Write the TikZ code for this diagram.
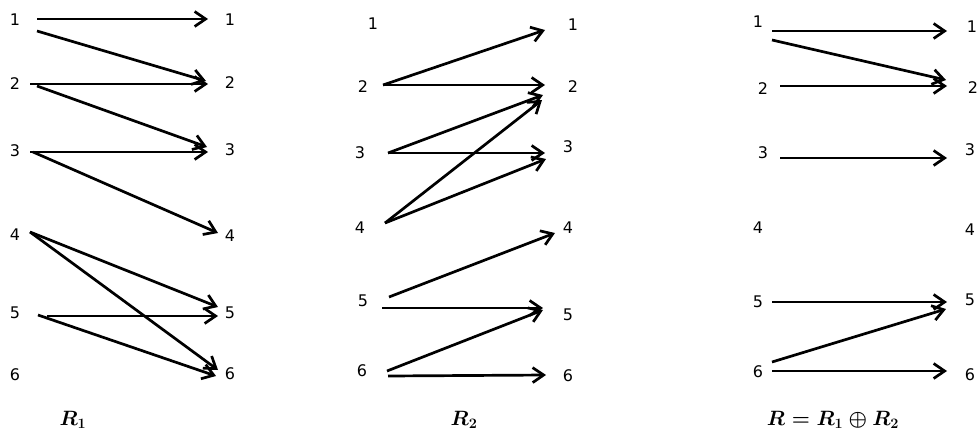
\documentclass[tikz,border=0pt]{standalone}
\usepackage{fontspec}
\newfontfamily\numfont{DejaVu Sans}
\usetikzlibrary{arrows.meta}
\begin{document}
\begin{tikzpicture}[x=1pt,y=-1pt,
  num/.style={inner sep=0pt,font=\numfont\fontsize{16}{17}\selectfont},
  rel/.style={inner sep=0pt,font=\fontsize{20}{21}\selectfont\boldmath},
  arr/.style={line width=2.7pt,-{Straight Barb[length=11pt,width=15pt]}}]
\useasboundingbox (0,0) rectangle (979,434);
% ---------- panel 1 ----------
\foreach \n/\y in {1/20,2/84,3/151,4/235,5/313,6/375}{\node[num] (a\n) at (15,\y) {\n};}
\foreach \n/\y in {1/20,2/83,3/150,4/236,5/313,6/374}{\node[num] (b\n) at (230,\y) {\n};}
\coordinate (a11) at (37,19);  \coordinate (b11) at (208,19);
\coordinate (a12) at (37,31);  \coordinate (b12) at (206,81);
\coordinate (a22) at (30,84);  \coordinate (b22) at (208,84);
\coordinate (a23) at (37,86);  \coordinate (b23) at (207,147);
\coordinate (a33) at (30,152); \coordinate (b33) at (208,152);
\coordinate (a34) at (33,152); \coordinate (b34) at (218,233);
\coordinate (a45) at (30,232); \coordinate (b45) at (218,307);
\coordinate (a46) at (30,232); \coordinate (b46) at (218,370);
\coordinate (a55) at (47,316); \coordinate (b55) at (218,316);
\coordinate (a56) at (38,315); \coordinate (b56) at (216,376);
\foreach \p in {11,12,22,23,33,34,45,46,55,56}{\draw[arr] (a\p) -- (b\p);}
\node[rel] (R1) at (73,420) {$R_1$};
% ---------- panel 2 ----------
\foreach \n/\x/\y in {1/373/24,2/363/87,3/360/153,4/360/228,5/363/301,6/362/371}{\node[num] (c\n) at (\x,\y) {\n};}
\foreach \n/\x/\y in {1/573/25,2/573/87,3/568/147,4/568/228,5/568/315,6/568/376}{\node[num] (d\n) at (\x,\y) {\n};}
\coordinate (c21) at (383,85);  \coordinate (d21) at (545,30);
\coordinate (c22) at (383,85);  \coordinate (d22) at (545,85);
\coordinate (c32) at (388,153); \coordinate (d32) at (543,95);
\coordinate (c33) at (388,153); \coordinate (d33) at (545,153);
\coordinate (c42) at (385,223); \coordinate (d42) at (542,100);
\coordinate (c43) at (385,223); \coordinate (d43) at (546,159);
\coordinate (c54) at (389,297); \coordinate (d54) at (555,233);
\coordinate (c55) at (382,308); \coordinate (d55) at (543,308);
\coordinate (c65) at (387,371); \coordinate (d65) at (543,310);
\coordinate (c66) at (388,376); \coordinate (d66) at (546,375);
\foreach \p in {21,22,32,33,42,43,54,55,65,66}{\draw[arr] (c\p) -- (d\p);}
\node[rel] (R2) at (464,420) {$R_2$};
% ---------- panel 3 ----------
\foreach \n/\x/\y in {1/758/22,2/763/89,3/763/153,4/758/228,5/758/302,6/758/372}{\node[num] (e\n) at (\x,\y) {\n};}
\foreach \n/\x/\y in {1/972/27,2/973/88,3/970/150,4/970/230,5/970/300,6/970/375}{\node[num] (f\n) at (\x,\y) {\n};}
\coordinate (e11) at (772,31);  \coordinate (f11) at (947,31);
\coordinate (e12) at (772,40);  \coordinate (f12) at (946,80);
\coordinate (e22) at (780,86);  \coordinate (f22) at (947,86);
\coordinate (e33) at (780,158); \coordinate (f33) at (947,158);
\coordinate (e55) at (772,302); \coordinate (f55) at (947,302);
\coordinate (e65) at (772,362); \coordinate (f65) at (946,309);
\coordinate (e66) at (772,371); \coordinate (f66) at (947,371);
\foreach \p in {11,12,22,33,55,65,66}{\draw[arr] (e\p) -- (f\p);}
\node[rel] (R) at (833,420) {$R = R_1 \oplus R_2$};
\end{tikzpicture}
\end{document}
